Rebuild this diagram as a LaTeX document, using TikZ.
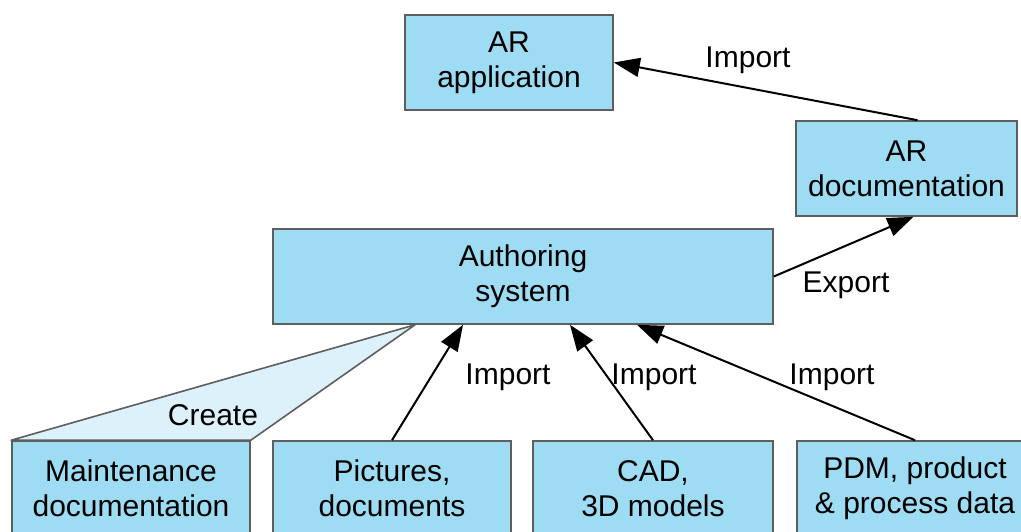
\documentclass[tikz,border=0pt]{standalone}
\usepackage{fontspec}
\setmainfont{Liberation Sans}
\usetikzlibrary{arrows.meta}
\definecolor{boxfill}{HTML}{9DDCF3}
\definecolor{boxline}{HTML}{5E5E5E}
\definecolor{createfill}{HTML}{DCF1FA}
\tikzset{
  box/.style={draw=boxline, line width=1.6pt, fill=boxfill, align=center,
    inner sep=0pt, minimum height=95pt, font=\fontsize{30}{35}\selectfont},
  flow/.style={line width=2pt, -{Triangle[length=26pt,width=19pt]}},
  lbl/.style={font=\fontsize{30}{35}\selectfont, inner sep=0pt}
}
\begin{document}
\begin{tikzpicture}[x=1pt, y=-1pt]
  \useasboundingbox (0,0) rectangle (1021,531);
  \clip (0,0) rectangle (1021,531);

  % upper level
  \node[box, minimum width=208pt] (arapp) at (509,62.5) {AR\\application};
  \node[box, minimum width=221pt] (ardoc) at (906.5,168.5) {AR\\documentation};
  \node[box, minimum width=500pt] (auth) at (523,276.5) {Authoring\\system};

  % source data (boxes run past the lower edge)
  \node[box, minimum width=238pt] (maint) at (131,488.5) {Maintenance\\documentation};
  \node[box, minimum width=238pt] (pics) at (392,488.5) {Pictures,\\documents};
  \node[box, minimum width=240pt] (cad) at (653,488.5) {CAD,\\3D models};
  \node[box, minimum width=236pt] (pdm) at (915,488.5) {PDM, product\\\& process data};

  % creation fan from the authoring system
  \coordinate (apex) at ([xshift=-108pt]auth.south);
  \filldraw[draw=boxline, line width=1.6pt, fill=createfill, line join=round]
    (apex) -- (maint.north west) -- (maint.north east) -- cycle;
  \node[lbl] (create) at (213,415) {Create};

  % data flows
  \draw[flow] ([xshift=11pt]ardoc.north) -- (arapp.east);
  \node[lbl] (l1) at (748,60) {Import};
  \draw[flow] (auth.east) -- ([xshift=7pt]ardoc.south);
  \node[lbl] (l2) at (846,285) {Export};
  \draw[flow] (pics.north) -- ([xshift=-60pt]auth.south);
  \node[lbl] (l3) at (508,377) {Import};
  \draw[flow] (cad.north) -- ([xshift=47pt]auth.south);
  \node[lbl] (l4) at (654,377) {Import};
  \draw[flow] (pdm.north) -- ([xshift=114pt]auth.south);
  \node[lbl] (l5) at (832,377) {Import};
\end{tikzpicture}
\end{document}
